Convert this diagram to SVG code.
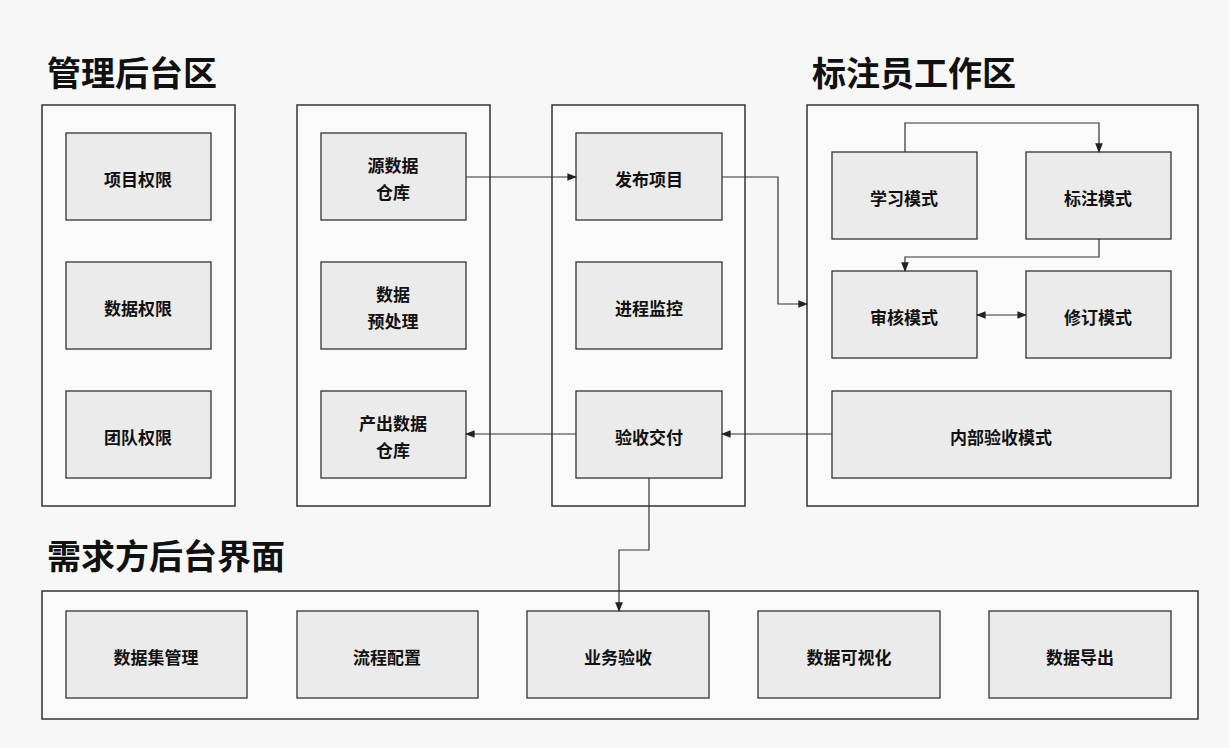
<svg xmlns="http://www.w3.org/2000/svg" width="1229" height="748" viewBox="0 0 1229 748">
<style>
.panel{fill:#fafafa;stroke:#333;stroke-width:1.5}
.node rect{fill:#ebebeb;stroke:#333;stroke-width:1.3}
text{font-family:"Noto Sans CJK SC","Noto Sans",sans-serif;fill:#111}
.node text{font-size:17px;font-weight:bold;text-anchor:middle}
.title{font-size:34px;font-weight:bold}
.c{fill:none;stroke:#333;stroke-width:1.2}
</style>
<defs><marker id="a" viewBox="0 0 10 10" refX="9" refY="5" markerWidth="8" markerHeight="8" orient="auto-start-reverse"><path d="M0,1L10,5L0,9z" fill="#222"/></marker></defs>
<rect width="1229" height="748" fill="#f7f7f7"/>
<text class="title" x="47" y="86">管理后台区</text>
<text class="title" x="812" y="86">标注员工作区</text>
<text class="title" x="47" y="569">需求方后台界面</text>
<rect class="panel" x="42" y="105" width="193" height="401"/>
<rect class="panel" x="297" y="105" width="193" height="401"/>
<rect class="panel" x="552" y="105" width="193" height="401"/>
<rect class="panel" x="807" y="105" width="391" height="401"/>
<rect class="panel" x="42" y="591" width="1156" height="128"/>
<g id="n1" class="node"><rect x="66" y="133" width="145" height="87"/><text x="138" y="186">项目权限</text></g>
<g id="n2" class="node"><rect x="66" y="262" width="145" height="87"/><text x="138" y="315">数据权限</text></g>
<g id="n3" class="node"><rect x="66" y="391" width="145" height="87"/><text x="138" y="444">团队权限</text></g>
<g id="n4" class="node"><rect x="321" y="133" width="145" height="87"/><text x="393" y="172">源数据</text><text x="393" y="199">仓库</text></g>
<g id="n5" class="node"><rect x="321" y="262" width="145" height="87"/><text x="393" y="301">数据</text><text x="393" y="328">预处理</text></g>
<g id="n6" class="node"><rect x="321" y="391" width="145" height="87"/><text x="393" y="430">产出数据</text><text x="393" y="457">仓库</text></g>
<g id="n7" class="node"><rect x="576" y="133" width="146" height="87"/><text x="649" y="186">发布项目</text></g>
<g id="n8" class="node"><rect x="576" y="262" width="146" height="87"/><text x="649" y="315">进程监控</text></g>
<g id="n9" class="node"><rect x="576" y="391" width="146" height="87"/><text x="649" y="444">验收交付</text></g>
<g id="n10" class="node"><rect x="832" y="152" width="145" height="87"/><text x="904" y="205">学习模式</text></g>
<g id="n11" class="node"><rect x="1026" y="152" width="145" height="87"/><text x="1098" y="205">标注模式</text></g>
<g id="n12" class="node"><rect x="832" y="271" width="145" height="87"/><text x="904" y="324">审核模式</text></g>
<g id="n13" class="node"><rect x="1026" y="271" width="145" height="87"/><text x="1098" y="324">修订模式</text></g>
<g id="n14" class="node"><rect x="832" y="391" width="339" height="87"/><text x="1001" y="444">内部验收模式</text></g>
<g id="n15" class="node"><rect x="66" y="611" width="181" height="87"/><text x="156" y="664">数据集管理</text></g>
<g id="n16" class="node"><rect x="297" y="611" width="181" height="87"/><text x="387" y="664">流程配置</text></g>
<g id="n17" class="node"><rect x="527" y="611" width="182" height="87"/><text x="618" y="664">业务验收</text></g>
<g id="n18" class="node"><rect x="758" y="611" width="182" height="87"/><text x="849" y="664">数据可视化</text></g>
<g id="n19" class="node"><rect x="989" y="611" width="182" height="87"/><text x="1080" y="664">数据导出</text></g>
<g id="connectors">
<path class="c" d="M466,177H576" marker-end="url(#a)"/>
<path class="c" d="M722,177H778V304H807" marker-end="url(#a)"/>
<path class="c" d="M905,152V123H1099V152" marker-end="url(#a)"/>
<path class="c" d="M1099,239V257H905V271" marker-end="url(#a)"/>
<path class="c" d="M977,315H1026" marker-start="url(#a)" marker-end="url(#a)"/>
<path class="c" d="M832,434H722" marker-end="url(#a)"/>
<path class="c" d="M576,434H466" marker-end="url(#a)"/>
<path class="c" d="M649,478V550H619V611" marker-end="url(#a)"/>
</g>
</svg>
